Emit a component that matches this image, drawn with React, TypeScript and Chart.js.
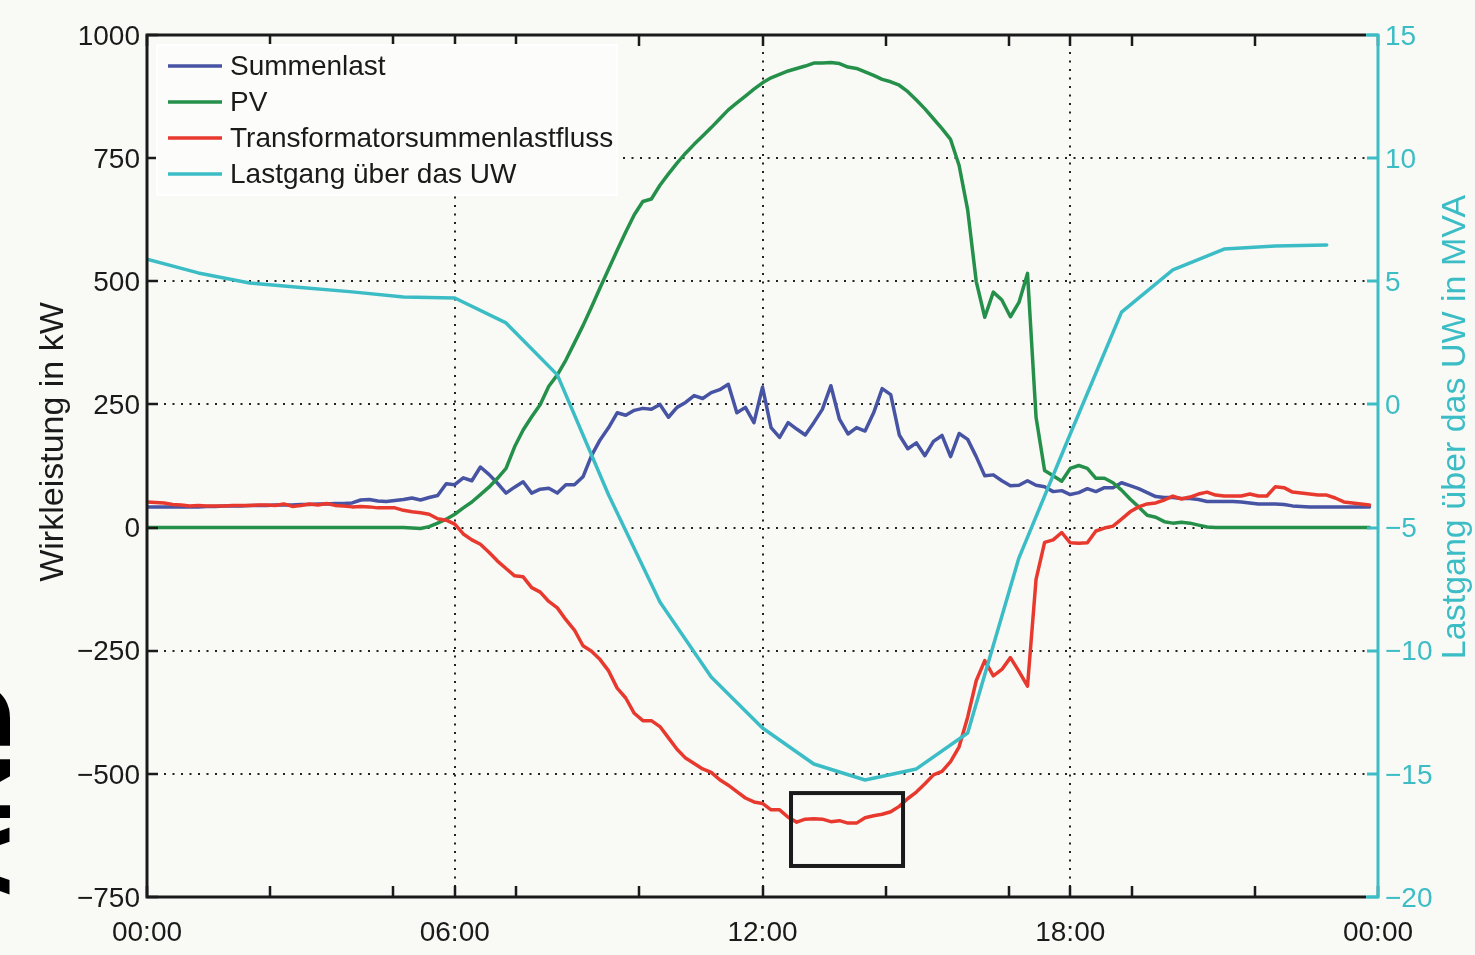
import React, { useEffect, useRef } from 'react';
import { Chart, registerables } from 'chart.js';

Chart.register(...registerables);

// ---------- data (10-minute resolution, 00:00 .. 23:50) ----------
const SUMMENLAST = [
  42, 42, 42, 42, 42, 42,
  42, 43, 43, 44, 44, 44,
  45, 45, 45, 46, 46, 46,
  47, 47, 48, 48, 49, 49,
  50, 56, 57, 54, 53, 55,
  57, 60, 56, 61, 65, 89,
  87, 101, 95, 123, 108, 90,
  70, 82, 93, 70, 78, 80,
  70, 87, 87, 103, 146, 178,
  203, 233, 228, 238, 242, 240,
  250, 224, 244, 254, 268, 262,
  274, 280, 291, 233, 244, 213,
  285, 203, 183, 213, 200, 188,
  213, 240, 288, 220, 190, 203,
  196, 233, 282, 270, 188, 160,
  172, 146, 175, 187, 144, 191,
  179, 144, 105, 107, 95, 85,
  86, 95, 86, 83, 73, 75,
  67, 71, 79, 73, 81, 81,
  91, 85, 79, 71, 63, 61,
  61, 59, 59, 57, 53, 53,
  53, 53, 52, 50, 48, 48,
  48, 47, 44, 43, 42, 42,
  42, 42, 42, 42, 42, 42,
];

const PV = [
  0, 0, 0, 0, 0, 0,
  0, 0, 0, 0, 0, 0,
  0, 0, 0, 0, 0, 0,
  0, 0, 0, 0, 0, 0,
  0, 0, 0, 0, 0, 0,
  0, -1, -2, 2, 9, 17,
  27, 40, 52, 67, 82, 100,
  120, 164, 198, 225, 250, 287,
  310, 340, 375, 410, 448, 487,
  525, 563, 600, 635, 662, 667,
  695, 718, 740, 760, 778, 795,
  812, 830, 848, 862, 876, 890,
  903, 913, 920, 927, 932, 937,
  943, 943, 944, 942, 935, 932,
  925, 918, 910, 905, 898, 885,
  868, 850, 830, 810, 788, 735,
  645, 500, 427, 478, 462, 428,
  457, 516, 224, 116, 105, 94,
  120, 126, 120, 100, 100, 91,
  76, 58, 42, 25, 21, 12,
  9, 11, 9, 5, 1, 0,
  0, 0, 0, 0, 0, 0,
  0, 0, 0, 0, 0, 0,
  0, 0, 0, 0, 0, 0,
];

const TRAFO = [
  52, 51, 50, 47, 46, 44,
  45, 44, 44, 44, 45, 45,
  45, 46, 46, 45, 48, 43,
  45, 48, 46, 49, 45, 44,
  42, 43, 42, 40, 40, 40,
  35, 32, 30, 27, 18, 15,
  7, -13, -25, -34, -50, -68,
  -83, -98, -100, -122, -131, -150,
  -163, -187, -208, -240, -251, -268,
  -291, -326, -346, -377, -392, -392,
  -404, -427, -450, -468, -479, -490,
  -497, -512, -523, -536, -549, -557,
  -560, -573, -573, -588, -598, -592,
  -591, -592, -597, -595, -600, -600,
  -589, -585, -582, -577, -566, -550,
  -537, -520, -502, -495, -475, -445,
  -385, -311, -270, -301, -288, -264,
  -292, -322, -105, -30, -25, -10,
  -31, -32, -31, -7, -1, 3,
  17, 32, 42, 48, 50, 56,
  64, 58, 62, 68, 72, 66,
  64, 64, 64, 68, 64, 64,
  83, 81, 72, 70, 68, 66,
  66, 60, 52, 50, 48, 46,
];

// ---------- data (hourly, MVA, right axis) ----------
const LASTGANG_HOURS = [0, 1, 2, 3, 4, 5, 6, 7, 8, 9, 10, 11, 12, 13, 14, 15, 16, 17, 18, 19, 20, 21, 22, 23];
const LASTGANG_MVA = [5.9, 5.34, 4.93, 4.75, 4.57, 4.36, 4.32, 3.31, 1.2, -3.68, -8.02, -11.07, -13.14, -14.6, -15.25, -14.8, -13.34, -6.23, -1.2, 3.75, 5.46, 6.31, 6.43, 6.47];

const TIME_10MIN = SUMMENLAST.map((_, i) => i / 6);

// ---------- axes / labels ----------
const X_LABEL_HOURS = [0, 6, 12, 18, 24];
const X_TICK_LABELS = ['00:00', '06:00', '12:00', '18:00', '00:00'];
const X_MARK_HOURS = [0, 2.4, 4.8, 6, 7.2, 9.6, 12, 14.4, 16.8, 18, 19.2, 21.6, 24];
const X_GRID_HOURS = [6, 12, 18];
const Y_LEFT_TICKS = [-750, -500, -250, 0, 250, 500, 750, 1000];
const Y_GRID_KW = [-500, -250, 0, 250, 500, 750];
const Y_RIGHT_TICKS = [-20, -15, -10, -5, 0, 5, 10, 15];
const SERIES_LABELS = ['Summenlast', 'PV', 'Transformatorsummenlastfluss', 'Lastgang über das UW'];
const LEFT_TITLE = 'Wirkleistung in kW';
const RIGHT_TITLE = 'Lastgang über das UW in MVA';
const HIGHLIGHT_BOX = { fromHour: 12.556, toHour: 14.74, lowKW: -687, highKW: -539 };

// ---------- style ----------
const W = 1475;
const H = 955;
const BG = '#f9faf6';
const INK = '#1a1a1a';
const C_BLUE = '#4753a3';
const C_GREEN = '#25904a';
const C_RED = '#e8392f';
const C_CYAN = '#3cbdc6';
const FONT = "'Liberation Sans', Arial, Helvetica, sans-serif";
const TICK_SIZE = 28;
const TITLE_SIZE = 34;
const LINE_W = 3.5;
const SERIES_COLORS = [C_BLUE, C_GREEN, C_RED, C_CYAN];

const minus = (v: number) => (v < 0 ? '\u2212' + Math.abs(v) : String(v));

const matlabPlugin = {
  id: 'matlabLook',
  beforeDatasetsDraw(chart: any) {
    const { ctx, chartArea: a, scales } = chart;
    ctx.save();
    ctx.strokeStyle = '#222';
    ctx.lineWidth = 2;
    ctx.setLineDash([2, 6.5]);
    for (const h of X_GRID_HOURS) {
      const x = Math.round(scales.x.getPixelForValue(h));
      ctx.beginPath();
      ctx.moveTo(x, a.top);
      ctx.lineTo(x, a.bottom);
      ctx.stroke();
    }
    for (const v of Y_GRID_KW) {
      const y = Math.round(scales.y.getPixelForValue(v));
      ctx.beginPath();
      ctx.moveTo(a.left, y);
      ctx.lineTo(a.right, y);
      ctx.stroke();
    }
    ctx.restore();
  },
  afterDatasetsDraw(chart: any) {
    const { ctx, chartArea: a, scales } = chart;
    const sx = scales.x, sy = scales.y, sy2 = scales.y2;
    ctx.save();
    ctx.setLineDash([]);
    ctx.lineCap = 'butt';

    // box (black part)
    ctx.strokeStyle = INK;
    ctx.lineWidth = 3;
    ctx.beginPath();
    ctx.moveTo(a.right - 12, a.top);
    ctx.lineTo(a.left, a.top);
    ctx.lineTo(a.left, a.bottom);
    ctx.lineTo(a.right - 12, a.bottom);
    ctx.stroke();

    // ticks bottom & top
    ctx.lineWidth = 2.5;
    for (const h of X_MARK_HOURS) {
      const x = Math.round(sx.getPixelForValue(h));
      ctx.beginPath();
      ctx.moveTo(x, a.bottom);
      ctx.lineTo(x, a.bottom - 11);
      ctx.moveTo(x, a.top);
      ctx.lineTo(x, a.top + 11);
      ctx.stroke();
    }
    // left ticks
    for (const v of Y_LEFT_TICKS) {
      const y = Math.round(sy.getPixelForValue(v));
      ctx.beginPath();
      ctx.moveTo(a.left, y);
      ctx.lineTo(a.left + 11, y);
      ctx.stroke();
    }

    // right axis (cyan)
    ctx.strokeStyle = C_CYAN;
    ctx.lineWidth = 3;
    ctx.beginPath();
    ctx.moveTo(a.right - 12, a.top);
    ctx.lineTo(a.right, a.top);
    ctx.lineTo(a.right, a.bottom);
    ctx.lineTo(a.right - 12, a.bottom);
    ctx.stroke();
    for (const v of Y_RIGHT_TICKS) {
      const y = Math.round(sy2.getPixelForValue(v));
      ctx.beginPath();
      ctx.moveTo(a.right, y);
      ctx.lineTo(a.right - 11, y);
      ctx.stroke();
    }

    // highlight rectangle
    const hx0 = sx.getPixelForValue(HIGHLIGHT_BOX.fromHour);
    const hx1 = sx.getPixelForValue(HIGHLIGHT_BOX.toHour);
    const hy0 = sy.getPixelForValue(HIGHLIGHT_BOX.highKW);
    const hy1 = sy.getPixelForValue(HIGHLIGHT_BOX.lowKW);
    ctx.strokeStyle = INK;
    ctx.lineWidth = 4;
    ctx.strokeRect(hx0, hy0, hx1 - hx0, hy1 - hy0);

    // legend
    const lx = a.left + 10, ly = a.top + 10, lw = 460, lh = 150;
    ctx.fillStyle = '#fcfcfa';
    ctx.fillRect(lx, ly, lw, lh);
    ctx.strokeStyle = '#ffffff';
    ctx.lineWidth = 2;
    ctx.strokeRect(lx, ly, lw, lh);
    ctx.font = `${TICK_SIZE}px ${FONT}`;
    ctx.textBaseline = 'middle';
    ctx.textAlign = 'left';
    SERIES_LABELS.forEach((label, i) => {
      const y = ly + 21 + i * 36;
      ctx.strokeStyle = SERIES_COLORS[i];
      ctx.lineWidth = LINE_W;
      ctx.beginPath();
      ctx.moveTo(lx + 11, y);
      ctx.lineTo(lx + 65, y);
      ctx.stroke();
      ctx.fillStyle = INK;
      ctx.fillText(label, lx + 73, y + 1);
    });

    // axis titles
    ctx.font = `${TITLE_SIZE}px ${FONT}`;
    ctx.textAlign = 'center';
    ctx.textBaseline = 'middle';
    ctx.fillStyle = INK;
    ctx.save();
    ctx.translate(54, 442);
    ctx.rotate(-Math.PI / 2);
    ctx.fillText(LEFT_TITLE, 0, 0);
    ctx.restore();
    ctx.fillStyle = C_CYAN;
    ctx.save();
    ctx.translate(1456, 427);
    ctx.rotate(-Math.PI / 2);
    ctx.fillText(RIGHT_TITLE, 0, 0);
    ctx.restore();

    // cropped page artefact on the left edge
    ctx.fillStyle = '#000';
    ctx.font = `bold 100px ${FONT}`;
    ctx.textAlign = 'left';
    ctx.textBaseline = 'alphabetic';
    ctx.save();
    ctx.translate(10, 897);
    ctx.rotate(-Math.PI / 2);
    ctx.fillText('AND', 0, 0);
    ctx.restore();

    ctx.restore();
  },
};

export default function App() {
  const ref = useRef<HTMLCanvasElement>(null);

  useEffect(() => {
    document.body.style.margin = '0';
    const canvas = ref.current;
    if (!canvas) return;
    const tickFont = { family: FONT, size: TICK_SIZE };
    const chart = new Chart(canvas, {
      type: 'line',
      data: {
        datasets: [
          {
            label: SERIES_LABELS[0],
            data: SUMMENLAST.map((y, i) => ({ x: TIME_10MIN[i], y })),
            borderColor: C_BLUE,
            yAxisID: 'y',
            order: 3,
          },
          {
            label: SERIES_LABELS[1],
            data: PV.map((y, i) => ({ x: TIME_10MIN[i], y })),
            borderColor: C_GREEN,
            yAxisID: 'y',
            order: 2,
          },
          {
            label: SERIES_LABELS[2],
            data: TRAFO.map((y, i) => ({ x: TIME_10MIN[i], y })),
            borderColor: C_RED,
            yAxisID: 'y',
            order: 1,
          },
          {
            label: SERIES_LABELS[3],
            data: LASTGANG_MVA.map((y, i) => ({ x: LASTGANG_HOURS[i], y })),
            borderColor: C_CYAN,
            yAxisID: 'y2',
            order: 0,
          },
        ],
      },
      options: {
        responsive: false,
        devicePixelRatio: 1,
        animation: false,
        events: [],
        layout: { padding: { top: 35, left: 0, right: 0, bottom: 0 } },
        elements: {
          line: { borderWidth: LINE_W, tension: 0, borderJoinStyle: 'round', borderCapStyle: 'round' },
          point: { radius: 0 },
        },
        plugins: { legend: { display: false }, tooltip: { enabled: false }, title: { display: false } },
        scales: {
          x: {
            type: 'linear',
            min: 0,
            max: 24,
            grid: { display: false, drawTicks: false },
            border: { display: false },
            afterBuildTicks: (s: any) => {
              s.ticks = X_LABEL_HOURS.map((v) => ({ value: v }));
            },
            ticks: {
              autoSkip: false,
              maxRotation: 0,
              padding: 19,
              color: INK,
              font: tickFont,
              callback: (v: any) => X_TICK_LABELS[X_LABEL_HOURS.indexOf(Number(v))] ?? '',
            },
            afterFit: (s: any) => {
              s.height = 58;
            },
          },
          y: {
            type: 'linear',
            position: 'left',
            min: -750,
            max: 1000,
            grid: { display: false, drawTicks: false },
            border: { display: false },
            afterBuildTicks: (s: any) => {
              s.ticks = Y_LEFT_TICKS.map((v) => ({ value: v }));
            },
            ticks: { padding: 7, labelOffset: 2, color: INK, font: tickFont, callback: (v: any) => minus(Number(v)) },
            afterFit: (s: any) => {
              s.width = 147;
            },
          },
          y2: {
            type: 'linear',
            position: 'right',
            min: -20,
            max: 15,
            grid: { display: false, drawTicks: false },
            border: { display: false },
            afterBuildTicks: (s: any) => {
              s.ticks = Y_RIGHT_TICKS.map((v) => ({ value: v }));
            },
            ticks: { padding: 7, labelOffset: 2, color: C_CYAN, font: tickFont, callback: (v: any) => minus(Number(v)) },
            afterFit: (s: any) => {
              s.width = 97;
            },
          },
        },
      },
      plugins: [matlabPlugin],
    } as any);
    return () => chart.destroy();
  }, []);

  return (
    <div style={{ position: 'absolute', left: 0, top: 0, width: W, height: H, background: BG, overflow: 'hidden' }}>
      <canvas ref={ref} width={W} height={H} style={{ width: W, height: H, display: 'block' }} />
    </div>
  );
}
